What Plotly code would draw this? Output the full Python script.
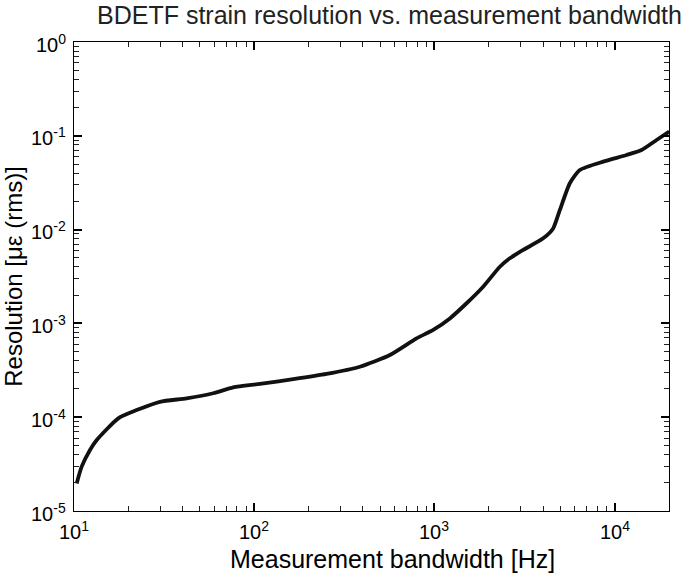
import math
import plotly.graph_objects as go

freq_hz = [10.35, 11.03, 12.27, 13.37, 17.61, 22.27, 29.99, 42.17, 59.25, 76.45,
           107.5, 164.6, 252, 385.5, 565.6, 795.5, 983.5, 1217, 1507, 1862,
           2305, 2618, 3104, 4008, 4553, 4961, 5636, 6404, 8624, 11627,
           14080, 17060, 20060]
resolution = [1.97e-5, 2.97e-5, 4.47e-5, 5.71e-5, 9.73e-5, 1.19e-4, 1.46e-4, 1.59e-4, 1.80e-4, 2.08e-4,
              2.26e-4, 2.54e-4, 2.89e-4, 3.45e-4, 4.60e-4, 6.93e-4, 8.51e-4, 1.13e-3, 1.64e-3, 2.46e-3,
              4.02e-3, 4.94e-3, 6.07e-3, 8.07e-3, 1.03e-2, 1.62e-2, 3.12e-2, 4.32e-2, 5.30e-2, 6.24e-2,
              7.06e-2, 9.02e-2, 1.11e-1]

x_tickvals = [10, 100, 1000, 10000]
x_ticktext = ["10<sup>1</sup>", "10<sup>2</sup>", "10<sup>3</sup>", "10<sup>4</sup>"]
y_tickvals = [1e-5, 1e-4, 1e-3, 1e-2, 1e-1, 1]
y_ticktext = ["10<sup>-5</sup>", "10<sup>-4</sup>", "10<sup>-3</sup>", "10<sup>-2</sup>",
              "10<sup>-1</sup>", "10<sup>0</sup>"]

FONT = "Liberation Sans, Arial, Helvetica, sans-serif"

fig = go.Figure()
fig.add_trace(go.Scatter(x=freq_hz, y=resolution, mode="lines",
                         line=dict(color="#111111", width=3.8, shape="spline", smoothing=0.6),
                         showlegend=False, hoverinfo="skip"))

axis_common = dict(showgrid=False, zeroline=False, showline=True, linecolor="black", linewidth=1.3,
                   mirror="ticks", ticks="inside", ticklen=8, tickwidth=1.6, tickcolor="black",
                   showticklabels=False, tick0=0, dtick=1,
                   minor=dict(ticks="inside", ticklen=5, tickwidth=1.4, tickcolor="#222", dtick="D1",
                              showgrid=False))

fig.update_xaxes(type="log", range=[1, 4.30103], **axis_common)
fig.update_yaxes(type="log", range=[-5, 0],
                 title=dict(text="Resolution [με (rms)]", font=dict(family=FONT, size=24, color="black"), standoff=46),
                 **axis_common)

for v, t in zip(x_tickvals, x_ticktext):
    fig.add_annotation(text=t, xref="x", yref="paper", x=math.log10(v), y=0,
                       xanchor="center", yanchor="top", yshift=-5, showarrow=False,
                       font=dict(family=FONT, size=20, color="black"))
for v, t in zip(y_tickvals, y_ticktext):
    fig.add_annotation(text=t, xref="paper", yref="y", x=0, y=math.log10(v),
                       xanchor="right", yanchor="middle", xshift=-6, yshift=-1, showarrow=False,
                       font=dict(family=FONT, size=20, color="black"))

fig.add_annotation(text="Measurement bandwidth [Hz]", xref="paper", yref="paper",
                   x=(392 - 74) / 595, y=(511 - 559) / 469, xanchor="center", yanchor="middle",
                   showarrow=False, font=dict(family=FONT, size=25, color="black"))

fig.update_layout(
    width=694, height=577,
    margin=dict(l=74, r=25, t=42, b=66),
    paper_bgcolor="white", plot_bgcolor="white",
    title=dict(text="BDETF strain resolution vs. measurement bandwidth",
               font=dict(family=FONT, size=25, color="#222"),
               x=97/694, xanchor="left", xref="container", y=1-15/577, yanchor="middle", yref="container"),
)

fig.write_html("out.html")
